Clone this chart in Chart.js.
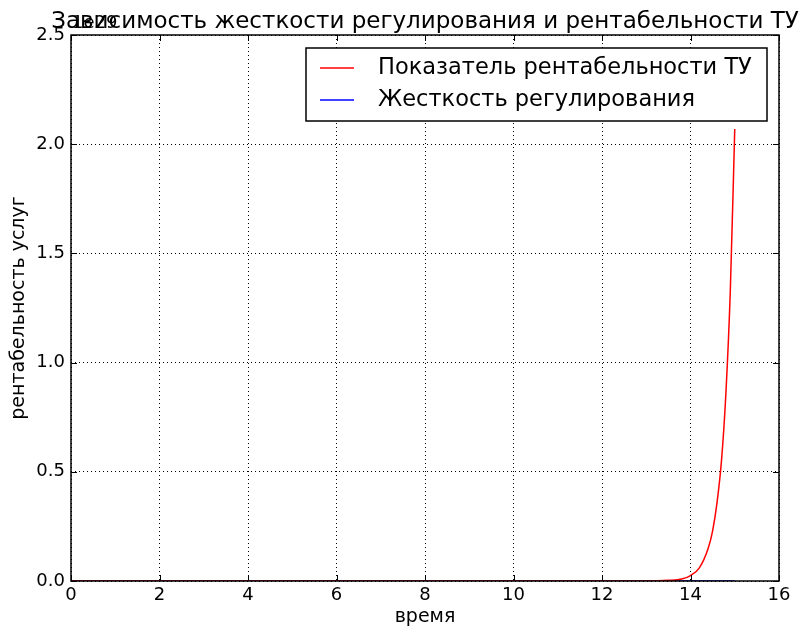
<!DOCTYPE html>
<html>
<head>
<meta charset="utf-8">
<script src="https://cdn.jsdelivr.net/npm/chart.js@4"></script>
<style>
  html, body { margin: 0; padding: 0; background: #fff; }
  #wrap { width: 801px; height: 628px; }
</style>
</head>
<body>
<div id="wrap"><canvas id="grafik" width="801" height="628"></canvas></div>
<script>
// данные
const vremya = [0, 1, 2, 3, 4, 5, 6, 7, 8, 9, 10, 11, 12, 13, 13.5, 13.8, 14, 14.2, 14.4, 14.5, 14.6, 14.7, 14.8, 14.9, 15];
const rentabelnost = [0, 0, 0, 0, 0, 0, 0, 0, 0, 0, 0, 0, 0, 0, 0.003e29, 0.009e29, 0.025e29, 0.06e29, 0.15e29, 0.23e29, 0.36e29, 0.55e29, 0.86e29, 1.33e29, 2.07e29];
const zhestkost = [0, 0, 0, 0, 0, 0, 0, 0, 0, 0, 0, 0, 0, 0, 0, 0, 0, 0, 0, 0, 0, 0, 0, 0, 0];
const xTicks = [0, 2, 4, 6, 8, 10, 12, 14, 16];
const yTicks = [0, 0.5e29, 1.0e29, 1.5e29, 2.0e29, 2.5e29];
const zagolovok = 'Зависимость жесткости регулирования и рентабельности ТУ';

const FONT = 'DejaVu Sans';

// рамка, засечки внутрь, заголовок, смещение 1e29 и легенда как в matplotlib
const mplStyle = {
  id: 'mplStyle',
  afterDatasetsDraw(chart) {
    const { ctx, chartArea: a, scales } = chart;
    ctx.save();
    ctx.strokeStyle = '#000';
    ctx.lineWidth = 1;
    ctx.beginPath();
    xTicks.forEach(v => {
      const px = Math.round(scales.x.getPixelForValue(v)) + 0.5;
      ctx.moveTo(px, a.bottom); ctx.lineTo(px, a.bottom - 6);
      ctx.moveTo(px, a.top); ctx.lineTo(px, a.top + 6);
    });
    yTicks.forEach(v => {
      const py = Math.round(scales.y.getPixelForValue(v)) + 0.5;
      ctx.moveTo(a.left, py); ctx.lineTo(a.left + 6, py);
      ctx.moveTo(a.right, py); ctx.lineTo(a.right - 6, py);
    });
    ctx.stroke();
    ctx.lineWidth = 1.5;
    ctx.strokeRect(a.left, a.top, a.right - a.left, a.bottom - a.top);

    // множитель оси y
    ctx.fillStyle = '#000';
    ctx.font = '18px ' + FONT;
    ctx.textAlign = 'left';
    ctx.textBaseline = 'bottom';
    ctx.fillText('1e29', a.left + 1, a.top - 3);

    // заголовок по центру области графика
    ctx.font = '23px ' + FONT;
    ctx.textAlign = 'center';
    ctx.textBaseline = 'alphabetic';
    ctx.fillText(zagolovok, (a.left + a.right) / 2, 28);

    // легенда
    const bx = 306, by = 48, bw = 461, bh = 73;
    ctx.textAlign = 'left';
    ctx.fillStyle = '#fff';
    ctx.fillRect(bx, by, bw, bh);
    ctx.lineWidth = 1.5;
    ctx.strokeStyle = '#000';
    ctx.strokeRect(bx, by, bw, bh);
    ctx.font = '22.5px ' + FONT;
    ctx.textBaseline = 'middle';
    chart.data.datasets.forEach((ds, i) => {
      const cy = by + 20 + i * 32;
      ctx.strokeStyle = ds.borderColor;
      ctx.lineWidth = 1.5;
      ctx.beginPath();
      ctx.moveTo(bx + 14, cy); ctx.lineTo(bx + 48, cy);
      ctx.stroke();
      ctx.fillStyle = '#000';
      ctx.fillText(ds.label, bx + 72, cy);
    });
    ctx.restore();
  }
};

new Chart(document.getElementById('grafik'), {
  type: 'line',
  data: {
    datasets: [
      {
        label: 'Показатель рентабельности ТУ',
        data: vremya.map((x, i) => ({ x, y: rentabelnost[i] })),
        borderColor: '#ff0000',
        borderWidth: 1.5,
        pointRadius: 0,
        cubicInterpolationMode: 'monotone'
      },
      {
        label: 'Жесткость регулирования',
        data: vremya.map((x, i) => ({ x, y: zhestkost[i] })),
        borderColor: '#0000ff',
        borderWidth: 1.5,
        pointRadius: 0
      }
    ]
  },
  options: {
    responsive: false,
    animation: false,
    layout: { padding: { left: 8, right: 22, top: 35, bottom: 0 } },
    plugins: {
      legend: { display: false },
      tooltip: { enabled: false },
      title: { display: false }
    },
    scales: {
      x: {
        type: 'linear',
        min: 0, max: 16,
        afterBuildTicks: s => { s.ticks = xTicks.map(v => ({ value: v })); },
        ticks: { color: '#000', font: { family: FONT, size: 18 }, padding: 4 },
        grid: { color: '#000', lineWidth: 1, tickLength: 0 },
        border: { display: false, dash: [1, 3] },
        title: { display: true, text: 'время', color: '#000', font: { family: FONT, size: 19 }, padding: { top: 0, bottom: 0 } },
        afterFit: s => { s.height = 47; }
      },
      y: {
        min: 0, max: 2.5e29,
        afterBuildTicks: s => { s.ticks = yTicks.map(v => ({ value: v })); },
        ticks: {
          color: '#000', font: { family: FONT, size: 18 }, padding: 6,
          callback: v => (v / 1e29).toFixed(1)
        },
        grid: { color: '#000', lineWidth: 1, tickLength: 0 },
        border: { display: false, dash: [1, 3] },
        title: { display: true, text: 'рентабельность услуг', color: '#000', font: { family: FONT, size: 19 }, padding: { top: 0, bottom: 4 } },
        afterFit: s => { s.width = 63; }
      }
    }
  },
  plugins: [mplStyle]
});
</script>
</body>
</html>
